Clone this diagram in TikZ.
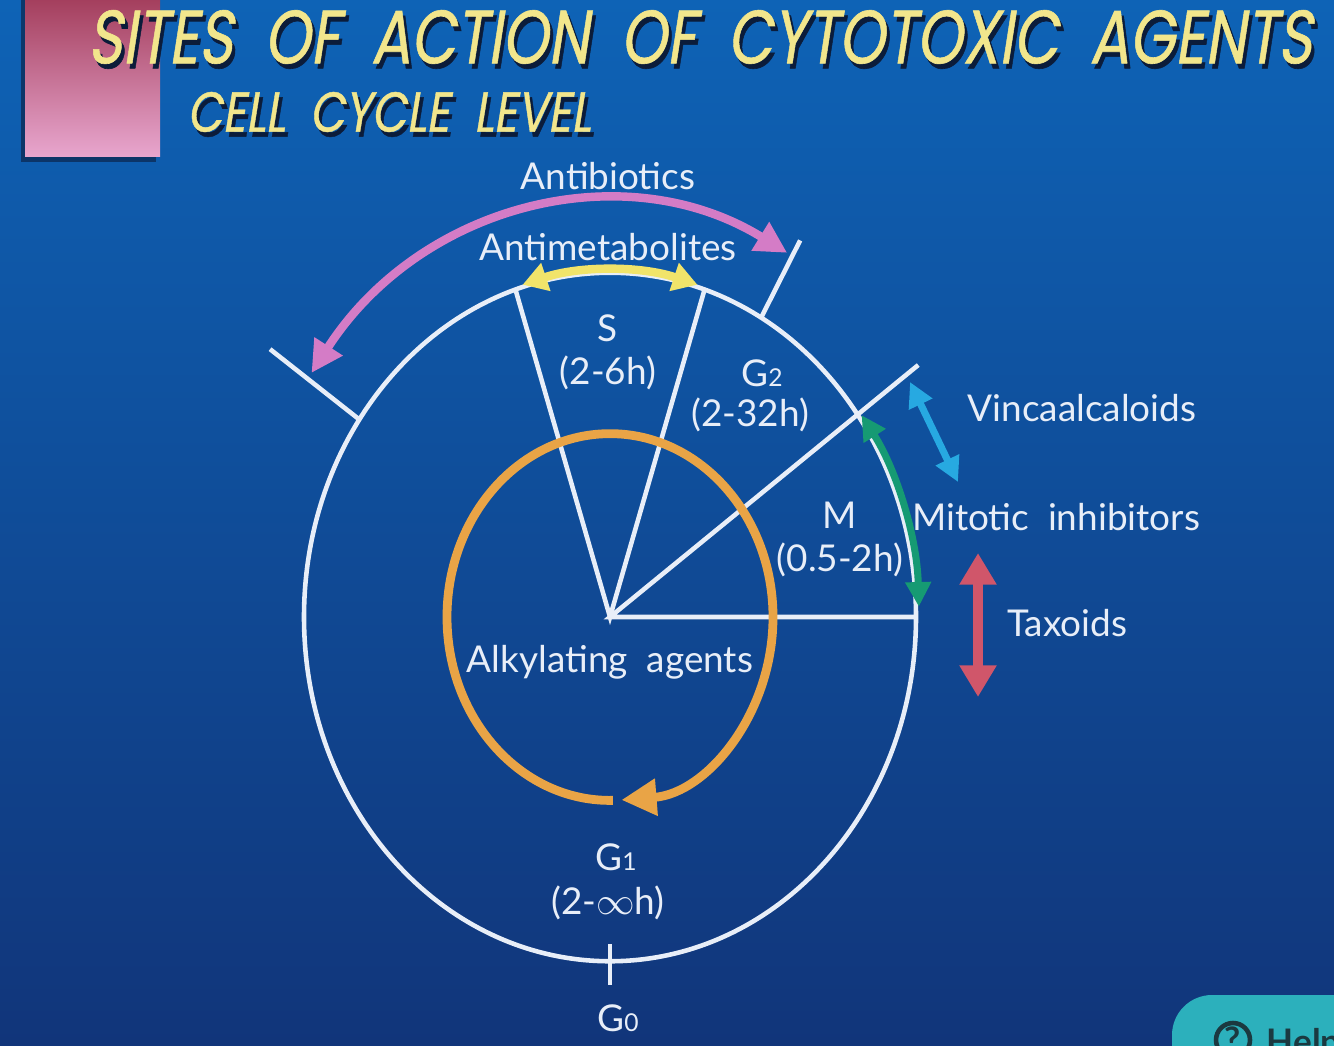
\documentclass[tikz,border=0pt]{standalone}
\usepackage{fontspec}
\setmainfont{Lato}
\newfontfamily\titlefont[FakeSlant=0.2,FakeBold=0.8]{Poppins}
\usetikzlibrary{arrows.meta}
\definecolor{bgtop}{HTML}{0E63B6}
\definecolor{bgmid}{HTML}{0A4C9F}
\definecolor{bgbot}{HTML}{11357A}
\definecolor{ink}{HTML}{E8EEF8}
\definecolor{titleyel}{HTML}{F2E68C}
\definecolor{shadowc}{HTML}{0B1C3A}
\definecolor{roseA}{HTML}{A23C5A}
\definecolor{roseB}{HTML}{E8A6CE}
\definecolor{ringc}{HTML}{E9A446}
\definecolor{abc}{HTML}{D47CC6}
\definecolor{amc}{HTML}{F1E46A}
\definecolor{vcc}{HTML}{27A9E1}
\definecolor{mic}{HTML}{169A73}
\definecolor{txc}{HTML}{D0566A}
\definecolor{helpc}{HTML}{2CB0BC}
\definecolor{helpink}{HTML}{1B3940}
\tikzset{
  wline/.style={draw=ink,line width=1.3pt},
  lbl/.style={text=ink,font=\fontsize{10.5}{12}\selectfont,inner sep=0pt},
  ringline/.style={draw=ringc,line width=2.5pt,-{Triangle[length=10pt,width=10pt]}},
  abarrow/.style={draw=abc,line width=2.4pt,{Triangle[length=9pt,width=9pt]}-{Triangle[length=9pt,width=9pt]}},
  amarrow/.style={draw=amc,line width=2.4pt,{Triangle[length=7pt,width=8pt]}-{Triangle[length=7pt,width=8pt]}},
  vcarrow/.style={draw=vcc,line width=2pt,{Triangle[length=7pt,width=7pt]}-{Triangle[length=7pt,width=7pt]}},
  miarrow/.style={draw=mic,line width=2pt,{Triangle[length=7pt,width=7pt]}-{Triangle[length=7pt,width=7pt]}},
  txarrow/.style={draw=txc,line width=2.6pt,{Triangle[length=9pt,width=10pt]}-{Triangle[length=9pt,width=10pt]}}
}
\newcommand{\shadowed}[5]{%
  \node[text=shadowc,font=#3,xscale=#4,xshift=1.1pt,yshift=-1.4pt] (#1s) at (#2) {#5};
  \node[text=titleyel,font=#3,xscale=#4] (#1) at (#2) {#5};
}

\begin{document}
\begin{tikzpicture}[x=0.01cm,y=0.01cm]
  \useasboundingbox (0,0) rectangle (1334,1045);
  \clip (0,0) rectangle (1334,1045);
  \shade[top color=bgtop,middle color=bgmid,bottom color=bgbot] (0,0) rectangle (1334,1045);
  \fill[shadowc,opacity=.6] (21,883) rectangle (156,1050);
  \shade[top color=roseA,bottom color=roseB] (25,888) rectangle (160,1050);
  \shadowed{title}{700,1008}{\titlefont\fontsize{21.5}{24}\selectfont}{0.775}{SITES\ \ OF\ \ ACTION\ \ OF\ \ CYTOTOXIC\ \ AGENTS}
  \shadowed{level}{389,933}{\titlefont\fontsize{16}{18}\selectfont}{0.81}{CELL\ \ CYCLE\ \ LEVEL}

  \begin{scope}[shift={(610,428)},yscale=1.125]
    \coordinate (ctr) at (0,0);
    \coordinate (sL) at (108:306); \coordinate (sR) at (72:306);
    \coordinate (mU) at (36:381); \coordinate (mR) at (0:306);
    \coordinate (tLa) at (145:306); \coordinate (tLb) at (145:415);
    \coordinate (tRa) at (60.4:306); \coordinate (tRb) at (60.4:385);
    \coordinate (g0a) at (270:291); \coordinate (g0b) at (270:327);
    \draw[wline] (ctr) circle[radius=306];
    \draw[wline] (sL) -- (ctr) -- (sR);
    \draw[wline] (mU) -- (ctr) -- (mR);
    \draw[wline] (tLa) -- (tLb);
    \draw[wline] (tRa) -- (tRb);
    \draw[wline] (g0a) -- (g0b);
    \coordinate (ring0) at (271:163);
    \draw[ringline] (ring0) arc[start angle=271,end angle=-86,radius=163];
    \coordinate (ab0) at (144:369);
    \draw[abarrow] (ab0) arc[start angle=144,end angle=61.3,radius=369];
    \coordinate (am0) at (106.5:308);
    \draw[amarrow] (am0) arc[start angle=106.5,end angle=73.5,radius=308];
    \coordinate (mi0) at (35.5:309);
    \draw[miarrow] (mi0) arc[start angle=35.5,end angle=1.7,radius=309];
  \end{scope}

  \coordinate (vcA) at (910,663); \coordinate (vcB) at (958,563);
  \draw[vcarrow] (vcA) -- (vcB);
  \coordinate (txA) at (978,492); \coordinate (txB) at (978,348);
  \draw[txarrow] (txA) -- (txB);

  \node[lbl] (antib) at (608,869) {Antibiotics};
  \node[lbl] (antim) at (608,798) {Antimetabolites};
  \node[lbl] (sph) at (608,717) {S};
  \node[lbl] (sdur) at (608,672) {(2-6h)};
  \node[lbl] (g2ph) at (762,672) {G{\scriptsize 2}};
  \node[lbl] (g2dur) at (750,630) {(2-32h)};
  \node[lbl] (mph) at (840,530) {M};
  \node[lbl] (mdur) at (840,485) {(0.5-2h)};
  \node[lbl] (vinca) at (1082,637) {Vincaalcaloids};
  \node[lbl] (mitot) at (1056,528) {Mitotic\ \ inhibitors};
  \node[lbl] (taxo) at (1067,422) {Taxoids};
  \node[lbl] (alky) at (610,383) {Alkylating\ \ agents};
  \node[lbl] (g1ph) at (616,188) {G{\scriptsize 1}};
  \node[lbl] (g1dur) at (608,142) {(2-$\infty$h)};
  \node[lbl] (g0ph) at (618,27) {G{\scriptsize 0}};

  \fill[helpc,rounded corners=0.4cm] (1172,-40) rectangle (1380,50);
  \draw[helpink,line width=1.3pt] (1233,5) circle[radius=17];
  \node[text=helpink,font=\bfseries\fontsize{10}{12}\selectfont] (helpq) at (1233,5) {?};
  \node[text=helpink,font=\bfseries\fontsize{10}{12}\selectfont,anchor=base west,inner sep=0pt] (helpt) at (1266,-9) {Help};
\end{tikzpicture}
\end{document}
